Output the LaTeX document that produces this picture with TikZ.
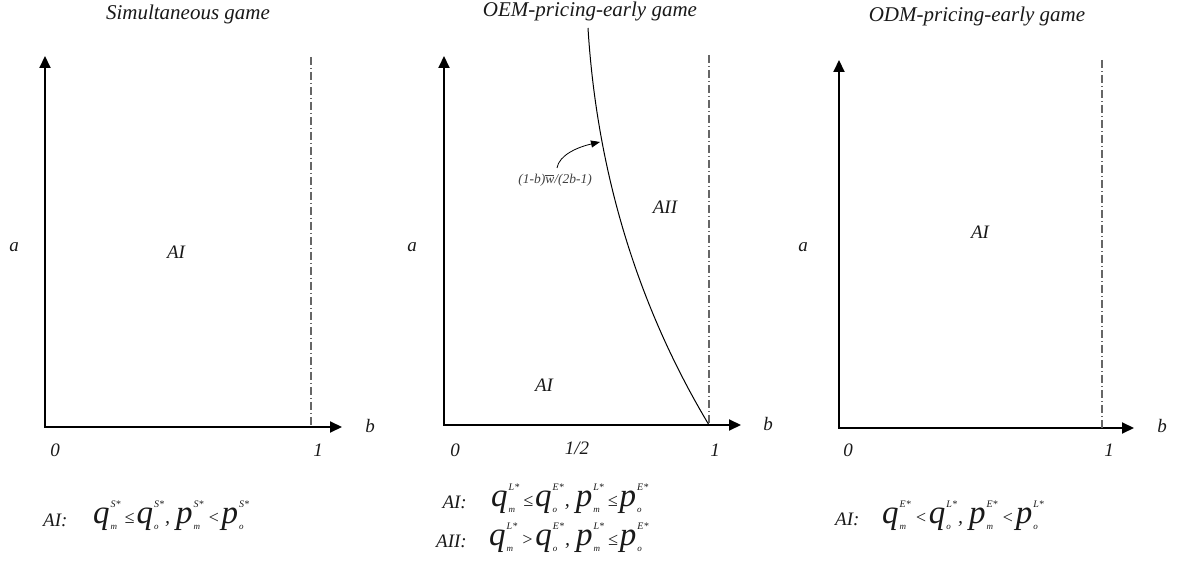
\documentclass[tikz,border=0pt]{standalone}
\usepackage{fontspec}
\setmainfont{Liberation Serif}
\usetikzlibrary{arrows.meta}
\newcommand\myfs[1]{\fontsize{#1}{#1}\selectfont}
\newcommand\tq[3]{{\myfs{33}#1}\kern1pt\rlap{\raisebox{-6pt}{\myfs{9}#2}}\raisebox{16pt}{\myfs{10}#3}}
\newcommand\rel[1]{\kern4pt{\myfs{18}#1}\kern2pt}
\newcommand\cm{\kern1pt{\myfs{20},}\kern6pt}
\tikzset{
 axis/.style={line width=2pt, line join=miter, {Triangle[length=12pt,width=11pt]}-{Triangle[length=12pt,width=11pt]}},
 guide/.style={black!60, line width=1.1pt, dash pattern=on 8pt off 3pt on 1pt off 3pt},
 lbl/.style={inner sep=0pt, text=black!90, font=\myfs{19}\itshape},
 ttl/.style={inner sep=0pt, text=black!90, font=\myfs{21}\itshape},
 frm/.style={inner sep=0pt, text=black!90, font=\itshape, anchor=base west},
 bnd/.style={line width=1pt},
}
\begin{document}
\begin{tikzpicture}[x=1pt,y=-1pt]
\useasboundingbox (0,0) rectangle (1179,561);
% ---------- panel 1
\node[ttl] (t1) at (188,14) {Simultaneous game};
\coordinate (yt1) at (45,56);
\coordinate (o1) at (45,427);
\coordinate (xe1) at (342,427);
\draw[axis] (yt1) -- (o1) -- (xe1);
\coordinate (g1a) at (311,57);
\coordinate (g1b) at (311,427);
\draw[guide] (g1a) -- (g1b);
\node[lbl] (a1) at (14,247) {a};
\node[lbl] (b1) at (370,426) {b};
\node[lbl] (z1) at (55,450) {0};
\node[lbl] (u1) at (318,450) {1};
\node[lbl] (r1) at (176,252) {AI};
\node[lbl, anchor=base west] (k1) at (43,526) {AI:};
\node[frm] (f1) at (93,523) {\tq{q}{m}{S*}\rel{≤}\tq{q}{o}{S*}\cm\tq{p}{m}{S*}\rel{<}\tq{p}{o}{S*}};
% ---------- panel 2
\node[ttl] (t2) at (590,11) {OEM-pricing-early game};
\coordinate (yt2) at (444,56);
\coordinate (o2) at (444,425);
\coordinate (xe2) at (741,425);
\draw[axis] (yt2) -- (o2) -- (xe2);
\coordinate (g2a) at (709,55);
\coordinate (g2b) at (709,425);
\draw[guide] (g2a) -- (g2b);
\coordinate (cs) at (588,28);
\coordinate (ce) at (709,425);
\draw[bnd] (cs) .. controls (596,158) and (631,295) .. (ce);
\node[lbl] (a2) at (412,247) {a};
\node[lbl] (b2) at (768,424) {b};
\node[lbl] (z2) at (455,450) {0};
\node[lbl] (h2) at (577,448) {1/2};
\node[lbl] (u2) at (715,450) {1};
\node[lbl] (r2a) at (544,385) {AI};
\node[lbl] (r2b) at (665,207) {AII};
\node[inner sep=0pt, text=black!75, font=\myfs{13.5}\itshape] (cl) at (555,180) {(1-b)$\overline{\hbox{w}}$/(2b-1)};
\coordinate (as) at (557,168);
\coordinate (ctip) at (600,142);
\draw[line width=0.8pt, -{Triangle[length=9pt,width=7pt]}] (as) .. controls (559,155) and (578,147) .. (ctip);
\node[lbl, anchor=base east] (k2a) at (467,508) {AI:};
\node[frm] (f2a) at (491,506) {\tq{q}{m}{L*}\rel{≤}\tq{q}{o}{E*}\cm\tq{p}{m}{L*}\rel{≤}\tq{p}{o}{E*}};
\node[lbl, anchor=base east] (k2b) at (467,547) {AII:};
\node[frm] (f2b) at (489,545) {\tq{q}{m}{L*}\rel{>}\tq{q}{o}{E*}\cm\tq{p}{m}{L*}\rel{≤}\tq{p}{o}{E*}};
% ---------- panel 3
\node[ttl] (t3) at (977,16) {ODM-pricing-early game};
\coordinate (yt3) at (839,60);
\coordinate (o3) at (839,428);
\coordinate (xe3) at (1134,428);
\draw[axis] (yt3) -- (o3) -- (xe3);
\coordinate (g3a) at (1102,60);
\coordinate (g3b) at (1102,428);
\draw[guide] (g3a) -- (g3b);
\node[lbl] (a3) at (803,247) {a};
\node[lbl] (b3) at (1162,426) {b};
\node[lbl] (z3) at (848,450) {0};
\node[lbl] (u3) at (1109,450) {1};
\node[lbl] (r3) at (980,232) {AI};
\node[lbl, anchor=base west] (k3) at (835,525) {AI:};
\node[frm] (f3) at (882,523) {\tq{q}{m}{E*}\rel{<}\tq{q}{o}{L*}\cm\tq{p}{m}{E*}\rel{<}\tq{p}{o}{L*}};
\end{tikzpicture}
\end{document}
